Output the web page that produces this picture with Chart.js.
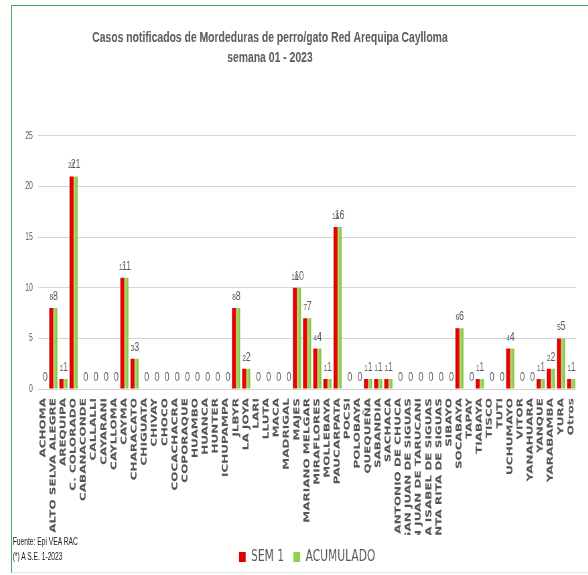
<!DOCTYPE html>
<html><head><meta charset="utf-8">
<script src="https://cdn.jsdelivr.net/npm/chart.js@4.4.1/dist/chart.umd.min.js"></script>
<style>
html,body{margin:0;padding:0;background:#fff;overflow:hidden;}
#wrap{position:absolute;left:0;top:0;width:588px;height:575px;overflow:hidden;background:#fff;}
#frame{position:absolute;left:11px;top:5px;width:640px;height:568px;border:1px solid #3cb15a;border-bottom-color:#cdeee0;box-sizing:border-box;}
#inner{position:absolute;left:-47px;top:0;width:946px;height:575px;transform:scaleX(0.67);transform-origin:0 0;}
#c{position:absolute;left:0;top:0;}
#note{position:absolute;left:89px;top:534px;font:10px/15px 'Liberation Sans',Arial,sans-serif;color:#1a1a1a;white-space:nowrap;}
</style></head>
<body>
<div id="wrap"><div id="frame"></div><div id="inner"><canvas id="c" width="946" height="575"></canvas><div id="note">Fuente: Epi VEA RAC<br>(*) A S.E. 1-2023</div></div></div>
<script>
const titleLines = ['Casos notificados de Mordeduras de perro/gato Red Arequipa Caylloma', 'semana 01 - 2023'];
const seriesNames = ['SEM 1', 'ACUMULADO'];
const categories = ['ACHOMA','ALTO SELVA ALEGRE','AREQUIPA','C. COLORADO','CABANACONDE','CALLALLI','CAYARANI','CAYLLOMA','CAYMA','CHARACATO','CHIGUATA','CHIVAY','CHOCO','COCACHACRA','COPORAQUE','HUAMBO','HUANCA','HUNTER','ICHUPAMPA','JLBYR','LA JOYA','LARI','LLUTA','MACA','MADRIGAL','MAJES','MARIANO MELGAR','MIRAFLORES','MOLLEBAYA','PAUCARPATA','POCSI','POLOBAYA','QUEQUEÑA','SABANDIA','SACHACA','SAN ANTONIO DE CHUCA','SAN JUAN DE SIGUAS','SAN JUAN DE TARUCANI','SANTA ISABEL DE SIGUAS','SANTA RITA DE SIGUAS','SIBAYO','SOCABAYA','TAPAY','TIABAYA','TISCO','TUTI','UCHUMAYO','VITOR','YANAHUARA','YANQUE','YARABAMBA','YURA','Otros'];
const sem1 =      [0,8,1,21,0,0,0,0,11,3,0,0,0,0,0,0,0,0,0,8,2,0,0,0,0,10,7,4,1,16,0,0,1,1,1,0,0,0,0,0,0,6,0,1,0,0,4,0,0,1,2,5,1];
const acumulado = [0,8,1,21,0,0,0,0,11,3,0,0,0,0,0,0,0,0,0,8,2,0,0,0,0,10,7,4,1,16,0,0,1,1,1,0,0,0,0,0,0,6,0,1,0,0,4,0,0,1,2,5,1];
const yTickValues = [0,5,10,15,20,25];

function barFill(stops, fallback) {
  return (c) => {
    const el = c.element;
    if (!el || !isFinite(el.x) || !el.width) return fallback;
    const g = c.chart.ctx.createLinearGradient(el.x - el.width/2, 0, el.x + el.width/2, 0);
    stops.forEach(s => g.addColorStop(s[0], s[1]));
    return g;
  };
}
const legendColors = ['#e00000', '#92d050'];

const valueLabels = {
  id: 'valueLabels',
  afterDatasetsDraw(chart) {
    const ctx = chart.ctx;
    ctx.save();
    ctx.fillStyle = '#595959';
    ctx.textAlign = 'center';
    ctx.textBaseline = 'alphabetic';
    chart.data.datasets.forEach((ds, di) => {
      const meta = chart.getDatasetMeta(di);
      meta.data.forEach((bar, i) => {
        const v = ds.data[i];
        if (di === 0 && v === 0) return;
        ctx.font = (di === 0 ? '9.5px' : '13px') + " 'Liberation Sans', Arial, sans-serif";
        ctx.fillText(String(v), bar.x, bar.y - 8);
      });
    });
    ctx.restore();
  }
};

const chart = new Chart(document.getElementById('c'), {
  type: 'bar',
  data: {
    labels: categories,
    datasets: [
      { label: seriesNames[0], data: sem1,
        backgroundColor: barFill([[0,'#9c0000'],[0.45,'#ff0000'],[1,'#e00000']], '#e00000'),
        categoryPercentage: 0.8, barPercentage: 0.98 },
      { label: seriesNames[1], data: acumulado,
        backgroundColor: barFill([[0,'#b4e27a'],[0.5,'#9ad45a'],[1,'#7fbd45']], '#92d050'),
        categoryPercentage: 0.8, barPercentage: 0.98 }
    ]
  },
  options: {
    responsive: false,
    animation: false,
    devicePixelRatio: 1,
    layout: { padding: { left: 3, right: 3, top: 0, bottom: 0 } },
    plugins: {
      title: {
        display: true, text: titleLines, color: '#595959',
        font: { family: "'Liberation Sans', Arial, sans-serif", size: 15.5, weight: 'bold', lineHeight: 1.29 },
        padding: { top: 28, bottom: 68 }
      },
      legend: {
        position: 'bottom', fullSize: false,
        labels: {
          boxWidth: 10, boxHeight: 10, padding: 14, color: '#595959',
          font: { family: "'DejaVu Sans', sans-serif", size: 16 },
          generateLabels: (ch) => ch.data.datasets.map((d, i) => ({
            text: d.label, fillStyle: legendColors[i], strokeStyle: legendColors[i],
            lineWidth: 0, hidden: false, datasetIndex: i, fontColor: '#595959'
          }))
        }
      },
      tooltip: { enabled: false }
    },
    scales: {
      x: {
        grid: { display: false, drawTicks: false },
        border: { display: false },
        ticks: {
          autoSkip: false, maxRotation: 90, minRotation: 90, padding: 9,
          color: '#555555',
          font: { family: "'DejaVu Sans', sans-serif", size: 12, weight: 'bold' }
        },
        afterFit: (s) => { s.height = 146; }
      },
      y: {
        min: 0, max: 25,
        afterBuildTicks: (s) => { s.ticks = yTickValues.map(v => ({ value: v })); },
        grid: { color: '#d6d6d6', lineWidth: 1, drawTicks: false },
        border: { display: false },
        ticks: {
          padding: 8, color: '#595959',
          font: { family: "'Liberation Sans', Arial, sans-serif", size: 10 }
        },
        afterFit: (s) => { s.width = 124; }
      }
    }
  },
  plugins: [valueLabels]
});
chart.update('none');
</script>
</body></html>
